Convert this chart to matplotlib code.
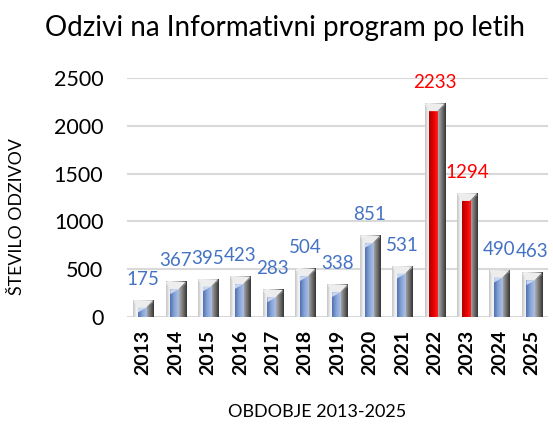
import numpy as np
import matplotlib.pyplot as plt
from matplotlib.colors import LinearSegmentedColormap
from matplotlib.patches import Polygon

years = ['2013', '2014', '2015', '2016', '2017', '2018', '2019',
         '2020', '2021', '2022', '2023', '2024', '2025']
values = [175, 367, 395, 423, 283, 504, 338, 851, 531, 2233, 1294, 490, 463]
highlight = ['2022', '2023']

blue_txt = '#4472c4'
red_txt = '#ff0000'

plt.rcParams['font.family'] = ['Lato', 'DejaVu Sans']

fig = plt.figure(figsize=(5.53, 4.28), dpi=100)
ax = fig.add_axes([0.2297, 0.2593, 0.7613, 0.5585])

shell = LinearSegmentedColormap.from_list('shell', [
    (0.0, '#c4c4c4'), (0.18, '#f9f9f9'), (0.32, '#d9d9d9'),
    (0.65, '#a8a8a8'), (0.85, '#6a6a6a'), (1.0, '#353535')])
blue_cm = LinearSegmentedColormap.from_list('b', ['#4e70b0', '#8aa6d8', '#a9bfe6'])
red_cm = LinearSegmentedColormap.from_list('r', ['#b00000', '#e60000', '#ff2020'])
grad = np.linspace(0, 1, 64).reshape(1, -1)

w = 0.62
iw = 0.25
cap = 80
for i, (yr, v) in enumerate(zip(years, values)):
    x = i
    ax.imshow(grad, cmap=shell, extent=(x - w / 2, x + w / 2, 0, v),
              aspect='auto', zorder=2, interpolation='bicubic')
    cm = red_cm if yr in highlight else blue_cm
    ix = x - 0.04
    ax.imshow(grad, cmap=cm, extent=(ix - iw / 2, ix + iw / 2, 0, v - cap),
              aspect='auto', zorder=3, interpolation='bicubic')
    # bevelled top
    ax.add_patch(Polygon([(x - w / 2, v), (x + w / 2, v),
                          (ix + iw / 2, v - cap), (ix - iw / 2, v - cap)],
                         closed=True, facecolor='#ededed', edgecolor='none', zorder=4))
    ax.add_patch(Polygon([(x + w / 2, v), (x + w / 2, v - cap * 0.3),
                          (ix + iw / 2, v - cap)],
                         closed=True, facecolor='#8a8a8a', edgecolor='none', zorder=4))
    if yr not in highlight:
        ax.add_patch(Polygon([(ix - iw / 2, v - cap), (ix + iw / 2, v - cap),
                              (ix - iw / 2, v - cap * 1.6)],
                             closed=True, facecolor='#c9d7f0', edgecolor='none', zorder=4))
    ax.text(x, v + 220, str(v), ha='center', va='center', fontsize=13.5,
            color=red_txt if yr in highlight else blue_txt, clip_on=False, zorder=5)

ax.set_xlim(-0.5, len(years) - 0.5)
ax.set_ylim(0, 2500)
ax.set_yticks([0, 500, 1000, 1500, 2000, 2500])
ax.yaxis.grid(True, color='#d9d9d9', linewidth=1.5, zorder=0)
ax.set_axisbelow(True)
ax.set_xticks(range(len(years)))
ax.set_xticklabels(years, rotation=90, fontsize=14, fontweight='bold')
ax.tick_params(axis='both', length=0)
ax.tick_params(axis='y', labelsize=15.5, pad=17)
ax.tick_params(axis='x', pad=9)
for s in ax.spines.values():
    s.set_visible(False)

fig.text(0.031, 0.493, 'ŠTEVILO ODZIVOV', rotation=90, ha='center', va='center',
         fontsize=12.8)
fig.text(0.573, 0.037, 'OBDOBJE 2013-2025', ha='center', va='center', fontsize=13)
fig.text(0.515, 0.935, 'Odzivi na Informativni program po letih', ha='center',
         va='center', fontsize=20)

fig.savefig('out.png', dpi=100)
